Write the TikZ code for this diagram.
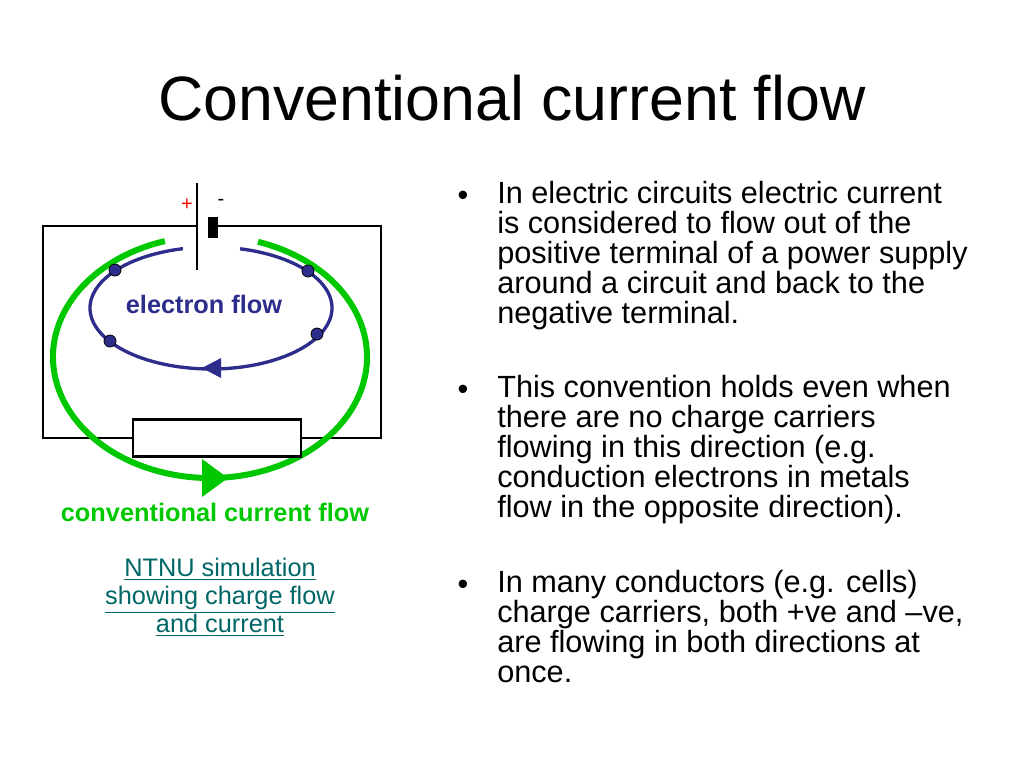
\documentclass[tikz,border=0pt]{standalone}
\usepackage{fontspec}
\setmainfont{Liberation Sans}
\begin{document}
\begin{tikzpicture}[x=0.75pt,y=-0.75pt,
  wire/.style={line width=2.2pt},
  bodytxt/.style={anchor=north west,align=left,font=\fontsize{23}{22.5}\selectfont,inner sep=0pt},
  bul/.style={anchor=north,font=\fontsize{23}{22.5}\selectfont,inner sep=0pt},
  link/.style={font=\fontsize{19}{21}\selectfont,text=teal!80!black,align=center,inner sep=0pt}]
\useasboundingbox (0,0) rectangle (1024,768);
\definecolor{cgreen}{RGB}{0,200,0}
\definecolor{cblue}{RGB}{45,45,140}
\node (title) at (512,98) {\fontsize{47}{56}\selectfont Conventional current flow};
% circuit
\coordinate (tl) at (43,226); \coordinate (tr) at (381,226);
\coordinate (bl) at (43,438); \coordinate (br) at (381,438);
\draw[wire] (197,226) -- (tl) -- (bl) -- (133,438);
\draw[wire] (218,226) -- (tr) -- (br) -- (301,438);
\draw[wire] (197,183) -- (197,270);
\fill (208,217) rectangle (218,238);
\node[text=red,font=\fontsize{15}{15}\selectfont] (plus) at (187,205) {+};
\node[font=\fontsize{15}{15}\selectfont] (minus) at (221,202) {-};
% green ellipse
\draw[cgreen,line width=4.5pt] (210,357) ++(287.8:157 and 121) arc[start angle=287.8,end angle=613.3,x radius=157,y radius=121];
\node[draw,wire,fill=white,minimum width=168*0.75pt,minimum height=37*0.75pt,inner sep=0pt] (res) at (217,438) {};
\fill[cgreen] (228,478) -- (202,459) -- (202,497) -- cycle;
% blue ellipse
\draw[cblue,line width=2.5pt] (211,308) ++(283.9:121 and 61) arc[start angle=283.9,end angle=616.6,x radius=121,y radius=61];
\fill[cblue] (202,368) -- (221,358) -- (221,378) -- cycle;
\foreach \p/\n in {{(115,270)}/d1,{(308,271)}/d2,{(110,341)}/d3,{(317,334)}/d4}
  \node[circle,fill=cblue,draw=black,line width=0.6pt,minimum size=9pt,inner sep=0pt] (\n) at \p {};
\node[text=cblue,font=\bfseries\fontsize{19}{19}\selectfont] (ef) at (204,304) {electron flow};
\node[text=cgreen,font=\bfseries\fontsize{19}{19}\selectfont] (ccf) at (215,512) {conventional current flow};
\node[link] (l1) at (220,597) {\underline{NTNU simulation}\\\underline{showing charge flow}\\\underline{and current}};
% bullets
\node[bul] (b1) at (463,191) {•};
\node[bodytxt] (t1) at (497,181) {In electric circuits electric current\\is considered to flow out of the\\positive terminal of a power supply\\around a circuit and back to the\\negative terminal.};
\node[bul] (b2) at (463,385) {•};
\node[bodytxt] (t2) at (497,375) {This convention holds even when\\there are no charge carriers\\flowing in this direction (e.g.\\conduction electrons in metals\\flow in the opposite direction).};
\node[bul] (b3) at (463,580) {•};
\node[bodytxt] (t3) at (497,570) {In many conductors (e.g. cells)\\charge carriers, both +ve and –ve,\\are flowing in both directions at\\once.};
\end{tikzpicture}
\end{document}
